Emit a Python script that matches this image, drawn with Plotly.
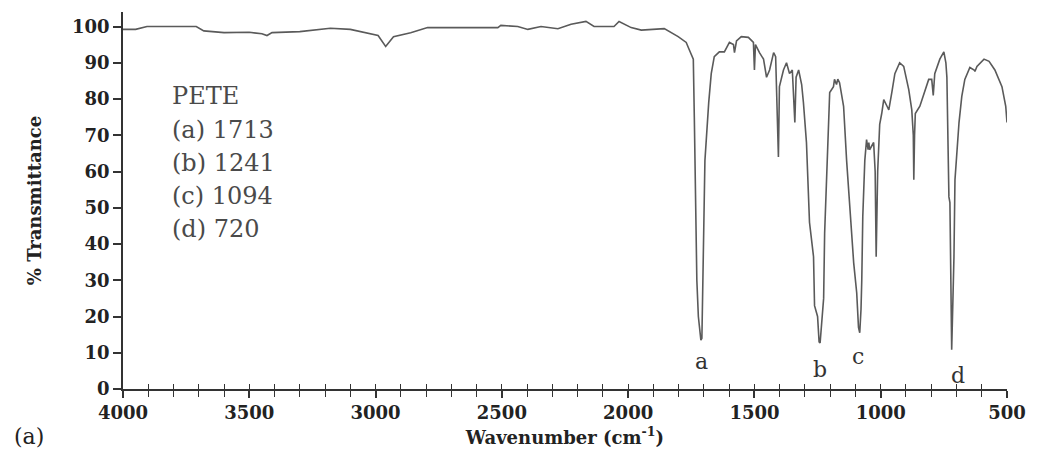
import plotly.graph_objects as go

# Wavenumber (cm-1) and % transmittance
wavenumber = [4000, 3950, 3905, 3710, 3680, 3600, 3500, 3450, 3430, 3410, 3300, 3250, 3179, 3100,
              3048, 2990, 2960, 2929, 2861, 2794, 2516, 2504, 2437, 2397, 2345, 2278, 2226, 2167,
              2135, 2056, 2036, 1988, 1948, 1857, 1802, 1770, 1758, 1742, 1738, 1734, 1728, 1722,
              1716, 1712, 1708, 1705, 1700, 1696, 1681, 1671, 1659, 1639, 1619, 1599, 1583, 1579,
              1571, 1552, 1524, 1504, 1500, 1496, 1480, 1464, 1452, 1440, 1424, 1416, 1409, 1405,
              1401, 1385, 1373, 1361, 1350, 1340, 1335, 1325, 1313, 1306, 1294, 1282, 1266, 1262,
              1250, 1244, 1240, 1234, 1226, 1222, 1214, 1202, 1187, 1183, 1175, 1170, 1163, 1147,
              1135, 1123, 1107, 1095, 1088, 1083, 1078, 1075, 1071, 1063, 1056, 1050, 1047, 1044,
              1035, 1028, 1022, 1018, 1012, 1008, 1004, 996, 988, 975, 968, 956, 944, 925,
              909, 889, 877, 871, 869, 866, 863, 845, 825, 810, 798, 792, 786, 766,
              750, 742, 738, 733, 730, 726, 722, 719, 714, 710, 706, 690, 679, 667,
              647, 630, 627, 619, 591, 571, 548, 520, 505, 500]
transmittance = [99.2, 99.2, 100, 100, 98.8, 98.3, 98.4, 98, 97.5, 98.3, 98.6, 99, 99.5, 99.2,
                 98.3, 97.5, 94.5, 97.2, 98.3, 99.7, 99.7, 100.3, 100, 99.2, 100, 99.4, 100.6, 101.4,
                 100, 100, 101.4, 99.7, 99, 99.4, 97.2, 95.6, 93.6, 91, 75, 52, 30, 20,
                 15, 13.5, 14, 25, 50, 63, 79, 87, 91.7, 93, 93, 95.6, 95, 92.8,
                 96, 97.2, 97, 95.6, 88, 95, 92.8, 91, 86, 88, 92.8, 91.7, 74, 64,
                 83.4, 88, 90, 87, 88, 73.5, 86, 88, 84, 79, 68, 46, 36.5, 23,
                 20, 13, 12.7, 18, 25, 43, 60.5, 81.8, 83.4, 85.4, 84, 85.5, 84.5, 78,
                 63, 51.4, 34.8, 26.5, 17, 15.5, 22, 30, 47.5, 63, 68.8, 66, 68, 66,
                 67, 68, 60, 36.5, 60, 68.8, 73, 76, 79.8, 78, 77, 81.8, 87, 90,
                 89, 82.6, 77, 70, 57.7, 70, 76, 78, 82.6, 85.4, 85.4, 81, 87, 91,
                 93, 90, 86, 60, 53, 51.4, 20, 10.8, 25, 36.5, 57.7, 73.5, 80.7, 85.4,
                 88.7, 88, 87.6, 89, 91, 90.4, 88, 83.4, 78, 73.5]

y_ticks = list(range(0, 101, 10))
x_ticks = [4000, 3500, 3000, 2500, 2000, 1500, 1000, 500]
minor_x_ticks = list(range(500, 4001, 100))
legend_lines = ["PETE", "(a) 1713", "(b) 1241", "(c) 1094", "(d) 720"]
peak_labels = ["a", "b", "c", "d"]
peak_label_x = [1710, 1242, 1091, 695]
peak_label_y = [7.5, 5.5, 9.1, 3.6]

SERIF = "DejaVu Serif"
fig = go.Figure()
fig.add_trace(go.Scatter(x=wavenumber, y=transmittance, mode="lines",
                         line=dict(color="#5a5a5a", width=1.6), showlegend=False,
                         hoverinfo="skip"))
# invisible trace to host the crossing tick axis
fig.add_trace(go.Scatter(x=[4000], y=[50], xaxis="x2", mode="markers",
                         marker=dict(opacity=0), showlegend=False, hoverinfo="skip"))

axis_font = dict(family=SERIF, size=18, color="#222222", weight="bold")
fig.update_layout(
    width=1041, height=461,
    margin=dict(l=123, r=34, t=12, b=72),
    paper_bgcolor="white", plot_bgcolor="white",
    xaxis=dict(range=[4000, 500], tickvals=x_ticks, ticks="outside", ticklen=7,
               tickwidth=1.5, tickcolor="#333", showline=True, linecolor="#333", linewidth=1.5,
               showgrid=False, zeroline=False, tickfont=axis_font,
               minor=dict(tickvals=minor_x_ticks, ticks="outside", ticklen=6, tickwidth=1.3,
                          tickcolor="#333"),
               title=dict(text="Wavenumber (cm<sup>-1</sup>)", font=axis_font, standoff=9)),
    xaxis2=dict(range=[4000, 500], overlaying="x", anchor="y", side="bottom",
                tickvals=minor_x_ticks, ticks="inside", ticklen=5,
                tickwidth=1.3, tickcolor="#333", showticklabels=False, showgrid=False,
                zeroline=False, showline=False),
    yaxis=dict(range=[0, 104], tickvals=y_ticks, ticks="outside", ticklen=8,
               tickwidth=1.5, tickcolor="#333", showline=True, linecolor="#333", linewidth=1.5,
               showgrid=False, zeroline=False, tickfont=axis_font,
               title=dict(text="% Transmittance", font=axis_font, standoff=26)),
)

for i, txt in enumerate(legend_lines):
    fig.add_annotation(x=3813, y=80.7 - i * 9.15, text=txt, xanchor="left", yanchor="middle",
                       showarrow=False, font=dict(family=SERIF, size=24, color="#4a4a4a"))

for lab, px, py in zip(peak_labels, peak_label_x, peak_label_y):
    fig.add_annotation(x=px, y=py, text=lab, showarrow=False, xanchor="center",
                       yanchor="middle", font=dict(family=SERIF, size=22, color="#333333"))

fig.add_annotation(x=-0.1256, y=-0.127, xref="paper", yref="paper", text="(a)", showarrow=False,
                   xanchor="left", yanchor="middle", font=dict(family=SERIF, size=22, color="#222222"))

fig.write_html("out.html", config={"displayModeBar": False},
               post_script="document.body.style.margin='0px';")
